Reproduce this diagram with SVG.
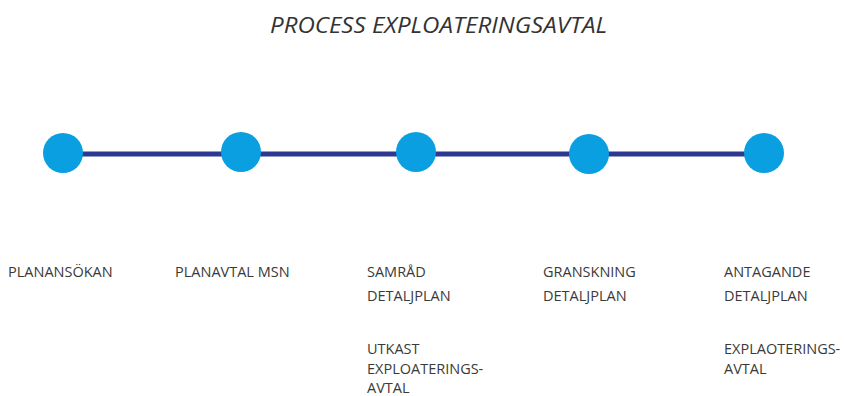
<svg xmlns="http://www.w3.org/2000/svg" width="845" height="396" viewBox="0 0 845 396">
<style>
.t{font-family:"Open Sans","Noto Sans","Liberation Sans",sans-serif;font-size:14.5px;fill:#3a3a3a;}
.title{font-family:"Open Sans","Noto Sans","Liberation Sans",sans-serif;font-size:22px;font-style:italic;fill:#333;}
.dot{fill:#0a9fe0;}
.ln{stroke:#2b3990;stroke-width:5;fill:none;}
</style>
<rect width="845" height="396" fill="#fff"/>
<text class="title" x="270" y="33" textLength="337" lengthAdjust="spacingAndGlyphs">PROCESS EXPLOATERINGSAVTAL</text>
<g id="connectors">
<line class="ln" x1="63" y1="154" x2="764" y2="154"/>
</g>
<g id="n1"><circle class="dot" cx="63" cy="153" r="20"/><text class="t" x="8" y="277">PLANANSÖKAN</text></g>
<g id="n2"><circle class="dot" cx="241" cy="152" r="20"/><text class="t" x="175" y="277">PLANAVTAL MSN</text></g>
<g id="n3"><circle class="dot" cx="416" cy="152" r="20"/><text class="t" x="367" y="277">SAMRÅD</text><text class="t" x="367" y="301">DETALJPLAN</text><text class="t" x="367" y="354">UTKAST</text><text class="t" x="367" y="374">EXPLOATERINGS-</text><text class="t" x="367" y="393">AVTAL</text></g>
<g id="n4"><circle class="dot" cx="589" cy="154" r="20"/><text class="t" x="543" y="277">GRANSKNING</text><text class="t" x="543" y="301">DETALJPLAN</text></g>
<g id="n5"><circle class="dot" cx="764" cy="153" r="20"/><text class="t" x="724" y="277">ANTAGANDE</text><text class="t" x="724" y="301">DETALJPLAN</text><text class="t" x="724" y="354">EXPLAOTERINGS-</text><text class="t" x="724" y="374">AVTAL</text></g>
</svg>
